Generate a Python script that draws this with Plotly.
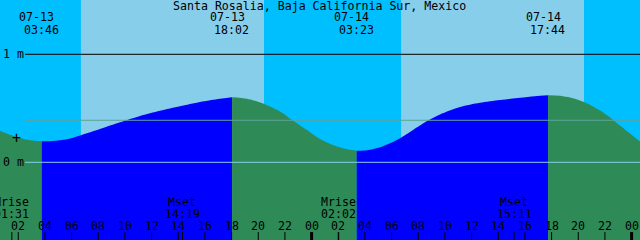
import plotly.graph_objects as go

# ---- data ----
title = "Santa Rosalia, Baja California Sur, Mexico"
# hours since 07-13 00:00
x_start, x_end = 0.63, 48.63
tide_hours = [0.63, 1.38, 2.13, 2.88, 3.767,
              4.605, 5.655, 6.705, 8.13, 9.63, 11.13, 12.63, 14.13, 15.63, 17.13, 18.033,
              19.155, 20.355, 21.63, 22.53, 23.655, 24.63, 25.605, 26.655, 27.383,
              28.155, 29.13, 29.88, 30.63, 31.605, 32.655, 33.63, 35.13, 36.63, 38.13,
              39.63, 40.755, 41.733,
              42.63, 43.53, 44.43, 45.63, 46.38, 47.13, 47.88, 48.63]
tide_m = [0.293, 0.256, 0.225, 0.204, 0.194,
          0.197, 0.214, 0.251, 0.308, 0.370, 0.429, 0.477, 0.519, 0.558, 0.588, 0.602,
          0.588, 0.544, 0.470, 0.392, 0.299, 0.216, 0.160, 0.121, 0.107,
          0.111, 0.139, 0.176, 0.222, 0.299, 0.382, 0.443, 0.512, 0.551, 0.577,
          0.597, 0.612, 0.621,
          0.616, 0.595, 0.558, 0.480, 0.415, 0.341, 0.267, 0.193]
# tide extremes (low, high, low, high)
event_hours = [3.767, 18.033, 27.383, 41.733]
event_dates = ["07-13", "07-13", "07-14", "07-14"]
event_times = ["03:46", "18:02", "03:23", "17:44"]
# sunrise / sunset
sun_rise = [6.70, 30.71]
sun_set = [20.43, 44.43]
# moon events
moon_hours = [1.517, 14.317, 26.033, 39.183]
moon_names = ["Mrise", "Mset", "Mrise", "Mset"]
moon_times = ["01:31", "14:19", "02:02", "15:11"]
# hour ticks
tick_hours = list(range(2, 49, 2))
tick_labels = ["%02d" % (h % 24) for h in tick_hours]
mean_level = 0.389

# ---- styles ----
NIGHT = "#00BFFF"
DAY = "#87CEEB"
FLOOD = "#0000FF"
EBB = "#2E8B57"
FONT = dict(family="DejaVu Sans Mono", size=11.6, color="black")
W, H = 640, 240
ymin = -(H - 162.3) / 108.0
ymax = 162.3 / 108.0

fig = go.Figure()

# fill segments split at tide extremes
bounds = [x_start] + event_hours + [x_end]
for i in range(len(bounds) - 1):
    a, b = bounds[i], bounds[i + 1]
    xs = [t for t in tide_hours if a - 1e-9 <= t <= b + 1e-9]
    ys = [tide_m[tide_hours.index(t)] for t in xs]
    color = EBB if i % 2 == 0 else FLOOD
    fig.add_trace(go.Scatter(x=[a, b], y=[ymin - 1, ymin - 1], mode="lines",
                             line=dict(width=0), hoverinfo="skip", showlegend=False))
    fig.add_trace(go.Scatter(x=xs, y=ys, mode="lines", fill="tonexty", fillcolor=color,
                             line=dict(width=0, shape="spline", smoothing=0.8, color=color),
                             hoverinfo="skip", showlegend=False))

shapes = []
# sky bands
edges = [x_start - 1, sun_rise[0], sun_set[0], sun_rise[1], sun_set[1], x_end + 1]
for i in range(len(edges) - 1):
    shapes.append(dict(type="rect", xref="x", yref="paper", x0=edges[i], x1=edges[i + 1],
                       y0=0, y1=1, fillcolor=NIGHT if i % 2 == 0 else DAY,
                       line=dict(width=0), layer="below"))
# horizontal reference lines
x_line0 = 25 / W
shapes.append(dict(type="line", xref="paper", yref="y", x0=x_line0, x1=1, y0=1, y1=1,
                   line=dict(color="black", width=1)))
shapes.append(dict(type="line", xref="paper", yref="y", x0=x_line0, x1=1, y0=mean_level,
                   y1=mean_level, line=dict(color="#5DA399", width=1)))
shapes.append(dict(type="line", xref="paper", yref="y", x0=x_line0, x1=1, y0=0, y1=0,
                   line=dict(color="#87CEEB", width=1)))
# ticks
tick_len = 8 / H
for h in tick_hours:
    shapes.append(dict(type="line", xref="x", yref="paper", x0=h, x1=h, y0=0, y1=tick_len,
                       line=dict(color="black", width=3 if h % 24 == 0 else 1)))
for h in moon_hours:
    shapes.append(dict(type="line", xref="x", yref="paper", x0=h, x1=h, y0=0, y1=tick_len,
                       line=dict(color="black", width=1)))

px_per_h = W / (x_end - x_start)
ann = []


def py(ypx):
    return 1 - ypx / H


ann.append(dict(text=title, x=319.2 / W, xref="paper", y=py(6), yref="paper",
                xanchor="center", yanchor="middle"))
for h, d, t in zip(event_hours, event_dates, event_times):
    ann.append(dict(text=d, x=h - 5 / px_per_h, xref="x", y=py(17.5), yref="paper",
                    xanchor="center", yanchor="middle"))
    ann.append(dict(text=t, x=h - 0.7 / px_per_h, xref="x", y=py(29.5), yref="paper",
                    xanchor="center", yanchor="middle"))
for h, n, t in zip(moon_hours, moon_names, moon_times):
    ann.append(dict(text=n, x=h, xref="x", y=py(201.7), yref="paper",
                    xanchor="center", yanchor="middle"))
    ann.append(dict(text=t, x=h, xref="x", y=py(213.5), yref="paper",
                    xanchor="center", yanchor="middle"))
for h, lab in zip(tick_hours, tick_labels):
    ann.append(dict(text=lab, x=h, xref="x", y=py(226), yref="paper",
                    xanchor="center", yanchor="middle"))
ann.append(dict(text="1 m", x=1.5 / W, xref="paper", y=1, yref="y",
                xanchor="left", yanchor="middle"))
ann.append(dict(text="0 m", x=1.5 / W, xref="paper", y=0, yref="y",
                xanchor="left", yanchor="middle"))
ann.append(dict(text="+", x=16.5 / W, xref="paper", y=py(138), yref="paper",
                xanchor="center", yanchor="middle", font=dict(family="DejaVu Sans Mono", size=15, color="black")))
for a in ann:
    a.setdefault("font", FONT)
    a["showarrow"] = False
    a["borderpad"] = 0

fig.update_layout(
    width=W, height=H, margin=dict(l=0, r=0, t=0, b=0),
    paper_bgcolor=NIGHT, plot_bgcolor=NIGHT,
    xaxis=dict(range=[x_start, x_end], visible=False, showgrid=False, zeroline=False, fixedrange=True),
    yaxis=dict(range=[ymin, ymax], visible=False, showgrid=False, zeroline=False, fixedrange=True),
    shapes=shapes, annotations=ann, showlegend=False,
)
fig.write_html("out.html", include_plotlyjs=True, config={"displayModeBar": False})
